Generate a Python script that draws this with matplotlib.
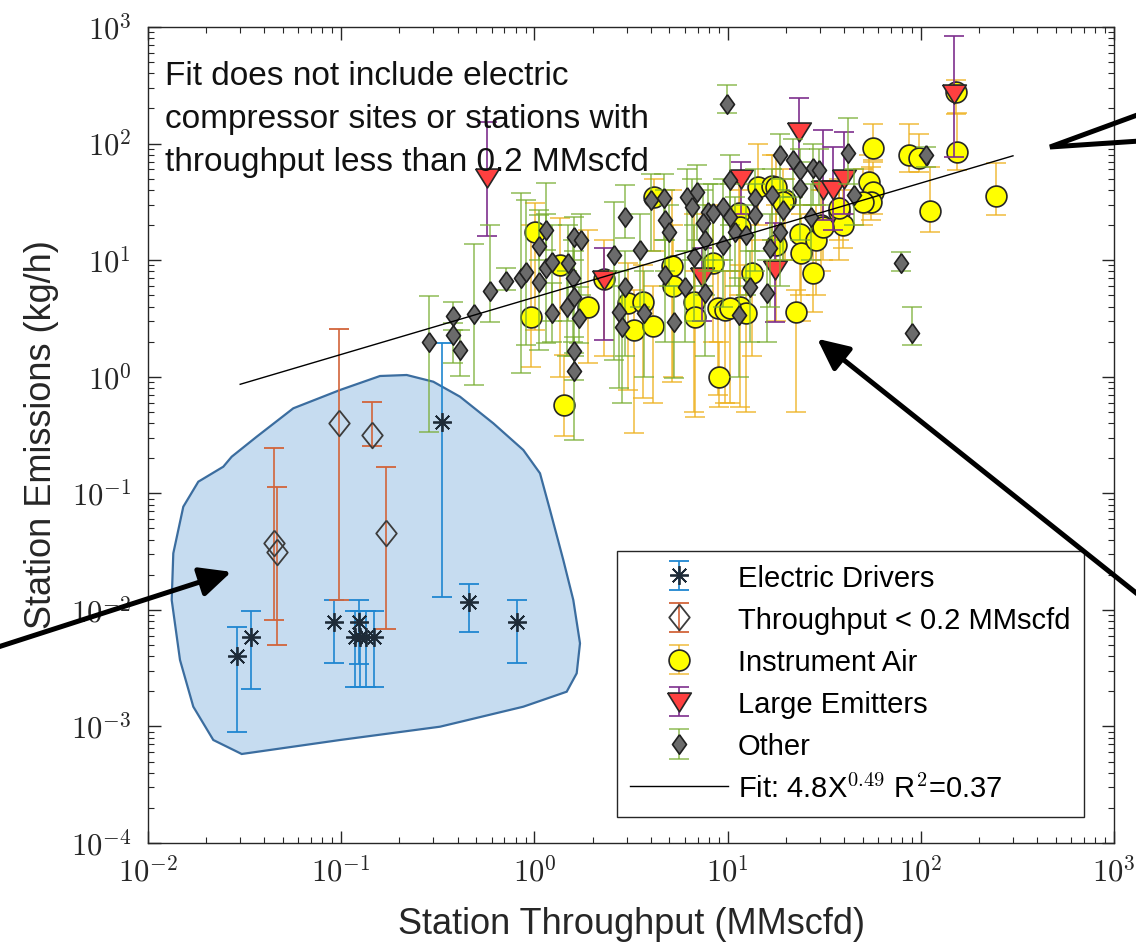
import numpy as np
import matplotlib

matplotlib.use("Agg")
import matplotlib.pyplot as plt
from matplotlib.patches import Polygon, FancyArrowPatch
from matplotlib.lines import Line2D
from matplotlib.ticker import FuncFormatter, LogLocator, NullFormatter

W, H = 1136, 947

# ---- data (x: MMscfd, y: kg/h, lo/hi: error-bar ends)
ED_X = [0.029, 0.034, 0.092, 0.123, 0.118, 0.125, 0.134, 0.147, 0.333, 0.459, 0.815]
ED_Y = [0.0040, 0.0058, 0.0078, 0.0078, 0.0058, 0.0058, 0.0058, 0.0058, 0.41, 0.0117, 0.0078]
ED_LO = [0.0009, 0.0021, 0.0035, 0.0034, 0.0022, 0.0022, 0.0022, 0.0022, 0.013, 0.0064, 0.0035]
ED_HI = [0.0071, 0.0097, 0.0122, 0.0122, 0.0097, 0.0097, 0.0097, 0.0097, 1.94, 0.0166, 0.0122]

TP_X = [0.0447, 0.0463, 0.0973, 0.145, 0.171]
TP_Y = [0.0373, 0.0313, 0.399, 0.318, 0.046]
TP_LO = [0.0082, 0.0050, 0.0122, 0.255, 0.0069]
TP_HI = [0.247, 0.114, 2.55, 0.612, 0.168]

IA_X = [1.01, 1.35, 0.96, 1.90, 1.43, 4.15, 3.05, 3.66, 3.28, 4.12, 5.16, 5.22,
        6.67, 6.8, 8.45, 8.97, 9.0, 14.4, 16.9, 19.8, 11.4, 11.6, 17.9, 23.6,
        24.1, 27.7, 28.7, 30.5, 37.9, 39.4, 13.3, 9.7, 11.6, 12.5, 22.7, 56.3,
        86.9, 97.8, 154, 112, 245, 54, 56.3, 55, 50, 37.9, 31.1, 10.3, 152,
        2.3, 17.9, 19.4]
IA_Y = [17.6, 9.1, 3.28, 4.0, 0.57, 34.6, 4.32, 4.41, 2.52, 2.73, 8.9, 6.0,
        4.41, 3.28, 9.4, 3.87, 1.0, 42.7, 43.3, 32.8, 25.2, 19.4, 13.5, 16.8,
        11.5, 7.7, 14.9, 20, 26, 20, 7.7, 3.74, 4.0, 3.5, 3.6, 91.2,
        79.8, 74.8, 85.2, 26.6, 35.5, 47.1, 38.7, 31.8, 31.8, 27.9, 19.4, 3.87, 275,
        6.9, 42, 31.6]
IA_LO = [2.5, 1.0, 1.22, 1.31, 0.31, 12, 0.77, 0.66, 0.33, 0.6, 0.9, 1.0,
         0.5, 0.45, 2.0, 0.7, 0.55, 20, 15, 10, 5, 4, 3, 5,
         3, 3.6, 5, 8, 10, 12.8, 1.5, 0.6, 0.55, 0.5, 0.5, 72,
         57, 57, 59, 17.5, 24.4, 30, 25, 22, 20, 15, 10, 0.6, 180,
         1.5, 15, 10]
IA_HI = [31, 23, 20, 18, 1.54, 50, 9.5, 9, 5.5, 6, 40, 20,
         25, 8, 30, 10, 2.0, 100, 80, 50, 50, 40, 30, 30,
         25, 18, 30, 40, 45, 40, 15, 8, 9, 8, 5.5, 148,
         148, 120, 182, 63, 68.6, 80, 70, 63, 60, 50, 40, 8, 350,
         15, 80, 60]

LE_X = [0.57, 2.28, 11.8, 23.4, 7.36, 17.5, 148, 31.1, 35.1, 40.2]
LE_Y = [50.7, 6.8, 50, 126, 7.2, 8.2, 266, 40, 40, 50]
LE_LO = [16, 2.07, 25, 60, 3.0, 2.97, 77, 22, 18, 25]
LE_HI = [154, 12.6, 69, 245, 12.6, 20.7, 841, 131, 94, 125]

OT_X = [0.286, 0.380, 0.380, 0.412, 0.488, 0.588, 0.715, 0.855, 0.906, 1.06,
        1.15, 1.06, 1.15, 1.23, 1.23, 1.49, 1.61, 1.74, 1.58, 1.61, 1.47, 1.71,
        1.61, 1.61, 3.99, 4.67, 2.96, 2.58, 3.52, 4.76, 4.96, 6.16, 6.93, 6.53,
        7.96, 7.5, 7.65, 8.45, 2.96, 2.74, 2.85, 3.69, 4.76, 5.26, 6.04, 6.67,
        7.65, 9.9, 18.6, 21.8, 23.6, 27.7, 29.9, 41.9, 10.3, 13.8, 16.9, 19.4,
        23.6, 9.5, 10.3, 13.8, 10.9, 12.5, 9.5, 18.6, 16.5, 27.1, 13.0, 15.9,
        11.4, 78.7, 90.3, 106, 45.3]
OT_Y = [1.98, 3.34, 2.28, 1.70, 3.44, 5.47, 6.63, 7.0, 7.97, 6.46,
        18.2, 13.3, 8.5, 9.7, 3.5, 9.4, 15.7, 14.9, 7.0, 4.86, 3.99, 3.18,
        1.66, 1.11, 32.8, 34, 23.6, 11.1, 12.2, 22.1, 17.3, 35, 38.7, 28.4,
        26.1, 20.7, 14.9, 25.2, 5.93, 3.62, 2.69, 3.5, 7.47, 2.97, 5.93, 10.7,
        5.2, 220, 80, 72, 59.4, 61.4, 59.4, 82.6, 48.7, 34, 36.3, 26.9,
        41.4, 28.8, 23.6, 24.4, 17.6, 16.4, 13.5, 17.6, 12.7, 23.6, 5.93, 5.26,
        3.39, 9.4, 2.36, 80, 36.3]
OT_LO = [0.338, 2.5, 1.31, 1.02, 0.85, 2.93, 5.55, 1.07, 1.87, 1.7,
         12.2, 10, 1.95, 3, 2.0, 3, 10, 5, 2, 1.5, 1.5, 1.94,
         0.94, 0.287, 12, 15, 15.5, 1.39, 4, 8, 6, 12, 15, 10,
         8, 6, 5, 8, 1.5, 0.8, 0.6, 1.0, 2, 0.97, 2, 3,
         1.5, 182, 40, 35, 30, 30, 30, 45, 20, 12, 15, 10,
         15, 10, 8, 8, 6, 5, 4, 6, 4, 10, 2, 2,
         1, 8.0, 1.87, 63, 20]
OT_HI = [4.96, 4.35, 2.88, 2.52, 13.7, 20, 8.5, 37.5, 33, 24.4,
         25, 27, 45.7, 20, 6.35, 20, 23.6, 25, 15, 12, 8, 5.9,
         2.2, 1.6, 55, 55, 44, 31.8, 25, 40, 30, 60, 65, 50,
         45, 40, 30, 45, 12, 8, 6, 8, 15, 6, 12, 20,
         10, 318, 120, 110, 90, 100, 90, 165, 80, 60, 60, 50,
         70, 50, 45, 45, 35, 30, 28, 35, 25, 45, 12, 10,
         7, 11.7, 4.0, 94, 60]

FIT_A, FIT_B = 4.8, 0.49
FIT_X = [0.03, 300]

# annotation shapes, in pixels of the 1136x947 canvas (y down)
BLOB_PX = [(241.7, 754), (213.3, 740), (193.3, 706.7), (180, 660), (171.7, 600),
           (173.3, 553.3), (183.3, 506.7), (198.3, 481.7), (223.3, 466.7),
           (231.7, 456.7), (256.7, 436.7), (293.3, 408.3), (340, 390), (380, 376),
           (406.7, 375), (433.3, 381.7), (460, 396.7), (493.3, 423.3), (523.3, 450),
           (540, 473.3), (550, 510), (563.3, 560), (573.3, 600), (580, 643.3),
           (576.7, 673.3), (566.7, 691.7), (523.3, 706.7), (440, 726.7), (340, 740)]
ARROWS_PX = [((-5, 648), (234, 571)), ((1150, 604), (815, 337))]
CALLOUT_PX = [(1140, 114), (1050, 147), (1140, 141)]

NOTE = ("Fit does not include electric\ncompressor sites or stations with\n"
        "throughput less than 0.2 MMscfd")


def fpx(x, y):
    return x / W, 1 - y / H


plt.rcParams.update({
    "font.family": ["Liberation Sans", "DejaVu Sans"],
    "mathtext.fontset": "cm",
    "axes.linewidth": 1.0,
    "axes.edgecolor": "#262626",
})

fig = plt.figure(figsize=(W / 100, H / 100), dpi=100)
ax = fig.add_axes([148 / W, 1 - 843 / H, (1114 - 148) / W, (843 - 27) / H])
ax.set_xscale("log")
ax.set_yscale("log")
ax.set_xlim(1e-2, 1e3)
ax.set_ylim(1e-4, 1e3)


def series(xs, ys, lo, hi, ecolor, z, ealpha=1.0, **mk):
    xs, ys = np.array(xs), np.array(ys)
    err = [ys - np.array(lo), np.array(hi) - ys]
    eb = ax.errorbar(xs, ys, yerr=err, linestyle="none", ecolor=ecolor,
                     elinewidth=1.2, capsize=7, capthick=1.2, zorder=z, **mk)
    eb[0].set_zorder(z + 0.5)
    for a in list(eb[1]) + list(eb[2]):
        a.set_alpha(ealpha)
    return eb


diamond = [(0, 1), (0.72, 0), (0, -1), (-0.72, 0), (0, 1)]
tp_diamond = [(0, 1), (0.8, 0), (0, -1), (-0.8, 0), (0, 1)]
tri_down = [(-1, 0.8), (1, 0.8), (0, -0.8), (-1, 0.8)]

h_ed = series(ED_X, ED_Y, ED_LO, ED_HI, "#1f86d0", 3,
              marker=(8, 2, 0), ms=13.5, mew=1.3, mec="#1e2b38",
              label="Electric Drivers")
h_tp = series(TP_X, TP_Y, TP_LO, TP_HI, "#d2643a", 4,
              marker=tp_diamond, ms=18.5, mew=1.3, mfc="none", mec="#3c3c3c",
              label="Throughput < 0.2 MMscfd")
h_ia = series(IA_X, IA_Y, IA_LO, IA_HI, "#EDB120", 5, ealpha=0.8,
              marker="o", ms=15, mew=1.2, mfc="#ffff00", mec="#262626",
              label="Instrument Air")
h_le = series(LE_X, LE_Y, LE_LO, LE_HI, "#7E2F8E", 6,
              marker=tri_down, ms=17, mew=1.2, mfc="#ff4040", mec="#262626",
              label="Large Emitters")
h_ot = series(OT_X, OT_Y, OT_LO, OT_HI, "#77AC30", 7, ealpha=0.75,
              marker=diamond, ms=14, mew=1.2, mfc="#6b6b6b", mec="#202020",
              label="Other")

fx = np.array(FIT_X)
h_fit, = ax.plot(fx, FIT_A * fx ** FIT_B, color="k", lw=1.0, zorder=8,
                 label=r"Fit: 4.8X$^{\mathsf{0.49}}$ R$^{\mathsf{2}}$=0.37")

# shaded region round the excluded sites
blob = Polygon([fpx(x, y) for x, y in BLOB_PX], closed=True,
               transform=fig.transFigure, facecolor="#c6dcf0",
               edgecolor="#3b6d9f", lw=1.6, zorder=0.5)
ax.add_patch(blob)

ax.text(0.0176, 0.958, NOTE, transform=ax.transAxes, ha="left", va="top",
        fontsize=24, linespacing=1.5, color="#111111", zorder=9)

# ticks in MATLAB style
fmt = FuncFormatter(lambda v, p: r"$10^{%d}$" % int(round(np.log10(v))))
for axis in (ax.xaxis, ax.yaxis):
    axis.set_major_locator(LogLocator(base=10, numticks=12))
    axis.set_minor_locator(LogLocator(base=10, subs=np.arange(2, 10), numticks=12))
    axis.set_major_formatter(fmt)
    axis.set_minor_formatter(NullFormatter())
ax.tick_params(which="both", direction="in", top=True, right=True,
               color="#262626", labelsize=22, labelcolor="#262626")
ax.tick_params(which="major", length=9, width=1.0)
ax.tick_params(which="minor", length=4.5, width=0.8)
ax.tick_params(axis="x", pad=10)
ax.tick_params(axis="y", pad=12)

ax.set_xlabel("Station Throughput (MMscfd)", fontsize=26, color="#262626",
              labelpad=14)
ax.set_ylabel("Station Emissions (kg/h)", fontsize=26, color="#262626")
ax.yaxis.set_label_coords(-0.092, 0.5)

leg = ax.legend([h_ed, h_tp, h_ia, h_le, h_ot, h_fit],
                [h.get_label() for h in (h_ed, h_tp, h_ia, h_le, h_ot, h_fit)],
                loc="lower left", bbox_to_anchor=(0.4855, 0.032), borderaxespad=0,
                fontsize=21, frameon=True, fancybox=False, edgecolor="#262626",
                framealpha=1, handlelength=3.35, handletextpad=0.35,
                labelspacing=0.45, borderpad=0.45, handleheight=1.0)
leg.get_frame().set_linewidth(1.0)
leg.set_zorder(10)

# arrows and call-out pointer laid over the figure
for tail, tip in ARROWS_PX:
    arr = FancyArrowPatch(fpx(*tail), fpx(*tip), transform=fig.transFigure,
                          arrowstyle="-|>,head_length=0.95,head_width=0.45",
                          mutation_scale=20, lw=3.6, color="k")
    fig.add_artist(arr)
cx, cy = zip(*[fpx(x, y) for x, y in CALLOUT_PX])
fig.add_artist(Line2D(cx, cy, transform=fig.transFigure, color="k", lw=3.6,
                      solid_joinstyle="miter"))

fig.savefig("out.png", dpi=100)
